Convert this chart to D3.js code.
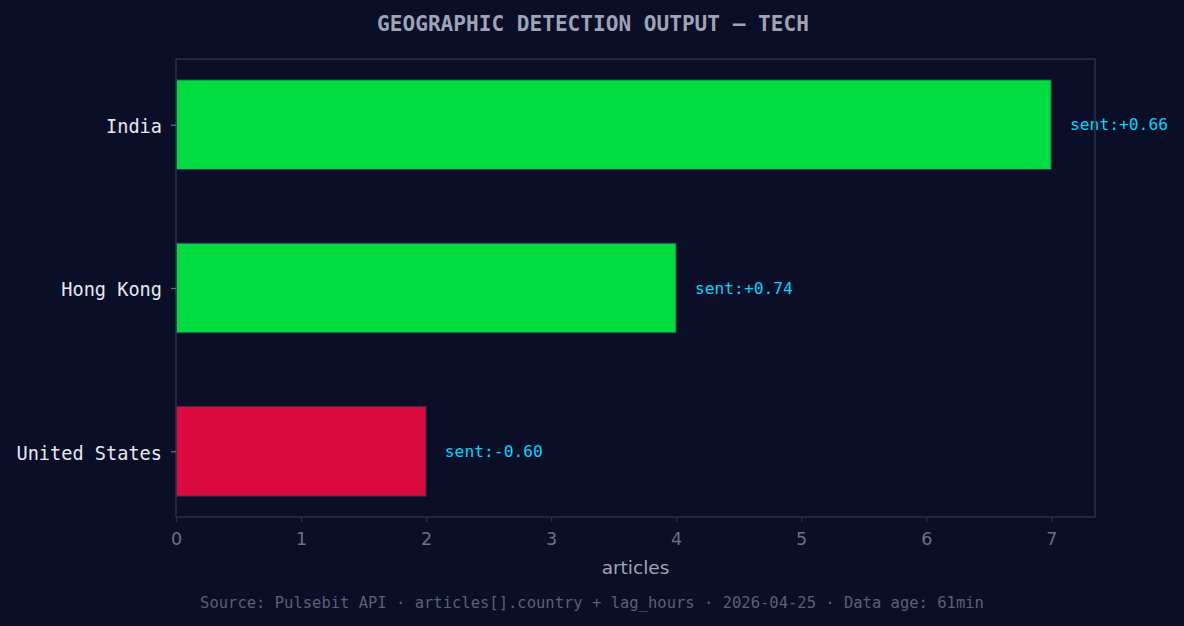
<!DOCTYPE html>
<html>
<head>
<meta charset="utf-8">
<script src="https://cdn.jsdelivr.net/npm/d3@7"></script>
<style>
  html, body { margin: 0; padding: 0; background: #0a0e27; }
  svg { display: block; }
</style>
</head>
<body>
<div id="chart"></div>
<script>
// data
const countries = ["India", "Hong Kong", "United States"];
const articles = [7, 4, 2];
const sentiment = [0.66, 0.74, -0.60];
const xTicks = [0, 1, 2, 3, 4, 5, 6, 7];

const width = 1184, height = 626;
const margin = { top: 59, right: 89, bottom: 109, left: 176 };
const plotW = width - margin.left - margin.right;
const plotH = height - margin.top - margin.bottom;

const bg = "#0a0e27";
const spine = "#2a2f4a";
const mono = "'DejaVu Sans Mono', monospace";
const sans = "'DejaVu Sans', sans-serif";

const svg = d3.select("#chart").append("svg")
    .attr("width", width)
    .attr("height", height)
    .style("background", bg);

svg.append("rect")
    .attr("width", width).attr("height", height)
    .attr("fill", bg);

const x = d3.scaleLinear()
    .domain([0, d3.max(articles) * 1.05])
    .range([0, plotW]);

// bars sit at integer positions, height 0.55, matplotlib-style 5% margins
const barH = 0.55;
const y = d3.scaleLinear()
    .domain([-0.4025, countries.length - 1 + 0.4025])
    .range([0, plotH]);

const g = svg.append("g")
    .attr("transform", `translate(${margin.left},${margin.top})`);

// bars
g.selectAll("rect.bar")
    .data(countries)
    .join("rect")
    .attr("class", "bar")
    .attr("x", x(0))
    .attr("y", (d, i) => y(i - barH / 2))
    .attr("width", (d, i) => x(articles[i]) - x(0))
    .attr("height", y(barH) - y(0))
    .attr("fill", (d, i) => sentiment[i] >= 0 ? "#00dc3f" : "#db0a3e")
    .attr("stroke", spine)
    .attr("stroke-width", 1);

// sentiment annotations
g.selectAll("text.sent")
    .data(countries)
    .join("text")
    .attr("class", "sent")
    .attr("x", (d, i) => x(articles[i] + 0.15))
    .attr("y", (d, i) => y(i))
    .attr("dy", "0.35em")
    .attr("fill", "#00d4ff")
    .style("font-family", mono)
    .style("font-size", "16.3px")
    .text((d, i) => "sent:" + (sentiment[i] >= 0 ? "+" : "") + sentiment[i].toFixed(2));

// frame
g.append("rect")
    .attr("x", 0).attr("y", 0)
    .attr("width", plotW).attr("height", plotH)
    .attr("fill", "none")
    .attr("stroke", spine)
    .attr("stroke-width", 1.5);

// x axis
const xAxis = g.append("g")
    .attr("transform", `translate(0,${plotH})`)
    .call(d3.axisBottom(x).tickValues(xTicks).tickFormat(d3.format("d")).tickSize(5).tickPadding(11));
xAxis.select(".domain").remove();
xAxis.selectAll("line").attr("stroke", spine).attr("stroke-width", 1.2);
xAxis.selectAll("text")
    .attr("fill", "#6b7089")
    .style("font-family", sans)
    .style("font-size", "17.5px");

// y axis
const yAxis = g.append("g")
    .call(d3.axisLeft(y).tickValues(d3.range(countries.length)).tickFormat(i => countries[i]).tickSize(5).tickPadding(9));
yAxis.select(".domain").remove();
yAxis.selectAll("line").attr("stroke", "#6b7089").attr("stroke-width", 1.2);
yAxis.selectAll("text")
    .attr("dy", "0.42em")
    .attr("fill", "#e6e8f0")
    .style("font-family", mono)
    .style("font-size", "18.6px");

// axis label
svg.append("text")
    .attr("x", margin.left + plotW / 2)
    .attr("y", 574)
    .attr("text-anchor", "middle")
    .attr("fill", "#a0a4b8")
    .style("font-family", sans)
    .style("font-size", "18.5px")
    .text("articles");

// title
svg.append("text")
    .attr("x", width / 2 + 1)
    .attr("y", 31)
    .attr("text-anchor", "middle")
    .attr("fill", "#9ea3b5")
    .style("font-family", mono)
    .style("font-weight", "bold")
    .style("font-size", "21.1px")
    .text("GEOGRAPHIC DETECTION OUTPUT — TECH");

// footer
svg.append("text")
    .attr("x", width / 2)
    .attr("y", 608)
    .attr("text-anchor", "middle")
    .attr("fill", "#5a6078")
    .style("font-family", mono)
    .style("font-size", "15.5px")
    .text("Source: Pulsebit API · articles[].country + lag_hours · 2026-04-25 · Data age: 61min");
</script>
</body>
</html>
